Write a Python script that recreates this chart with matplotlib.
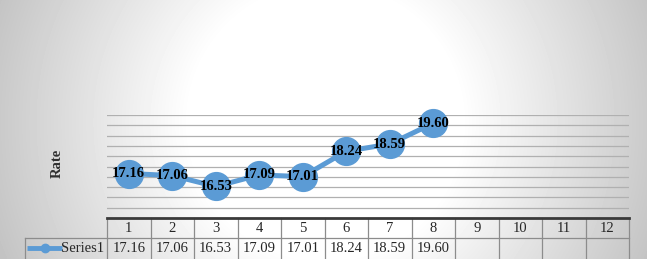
import numpy as np
import matplotlib
matplotlib.use("Agg")
import matplotlib.pyplot as plt
from matplotlib.transforms import blended_transform_factory

plt.rcParams['font.family'] = ['Liberation Serif', 'DejaVu Serif']

# data
categories = ['1', '2', '3', '4', '5', '6', '7', '8', '9', '10', '11', '12']
rates = [17.16, 17.06, 16.53, 17.09, 17.01, 18.24, 18.59, 19.60]
series_name = 'Series1'
y_label = 'Rate'

W, H = 647, 259
fig = plt.figure(figsize=(W / 100, H / 100), dpi=100)

# radial grey background, white in the middle
bg = fig.add_axes([0, 0, 1, 1])
yy, xx = np.mgrid[0:H, 0:W]
d = np.hypot(xx - 325, (yy - 122) * 1.0)
shade = 255 - np.clip(d - 136, 0, None) * 0.28
shade = np.clip(shade, 192, 255) / 255
bg.imshow(shade, cmap='gray', vmin=0, vmax=1, extent=[0, W, H, 0], aspect='auto')
bg.set_xlim(0, W)
bg.set_ylim(H, 0)
bg.axis('off')

# plot area
left, right, top, bottom = 107, 629, 115, 218
ax = fig.add_axes([left / W, (H - bottom) / H, (right - left) / W, (bottom - top) / H])
ax.patch.set_alpha(0)
x = np.arange(1, len(rates) + 1)
ax.set_xlim(0.5, len(categories) + 0.5)
ax.set_ylim(15, 20)
for g in np.arange(15.5, 20.01, 0.5):
    ax.axhline(g, color='#b0b0b0', lw=0.9, zorder=1)
for s in ['top', 'left', 'right']:
    ax.spines[s].set_visible(False)
ax.spines['bottom'].set_color('#3a3a3a')
ax.spines['bottom'].set_linewidth(2)
ax.set_xticks([])
ax.set_yticks([])

blue = '#5b9bd5'
ax.plot(x, rates, color=blue, lw=3.6, marker='o', ms=20, zorder=3, clip_on=False)
for xi, v in zip(x, rates):
    ax.text(xi, v, f'{v:.2f}', ha='center', va='center', fontsize=10.5,
            fontweight='bold', color='black', zorder=4)

fig.text(57 / W, 1 - 163 / H, y_label, rotation=90, ha='center', va='center',
         fontsize=10.5, fontweight='bold', color='#303030')

# data table under the axis
row_h = 20 / (bottom - top)
tr = blended_transform_factory(ax.transData, ax.transAxes)
grid_c = '#8c8c8c'
n = len(categories)
for i in range(n + 1):
    ax.plot([i + 0.5, i + 0.5], [0, -2.1 * row_h], transform=tr, color=grid_c,
            lw=0.9, clip_on=False)
leg_left = (25 - left) / (right - left)
ax.plot([leg_left, 1], [-row_h, -row_h], transform=ax.transAxes, color=grid_c,
        lw=0.9, clip_on=False)
ax.plot([leg_left, leg_left], [-row_h, -2.1 * row_h], transform=ax.transAxes,
        color=grid_c, lw=0.9, clip_on=False)

for i, c in enumerate(categories):
    ax.text(i + 1, -0.5 * row_h, c, transform=tr, ha='center', va='center',
            fontsize=10.5, color='#262626')
for i, v in enumerate(rates):
    ax.text(i + 1, -1.5 * row_h, f'{v:.2f}', transform=tr, ha='center', va='center',
            fontsize=10.5, color='#262626')

# legend key inside the table
lx0 = (27 - left) / (right - left)
lx1 = (62 - left) / (right - left)
lxm = (45 - left) / (right - left)
ax.plot([lx0, lx1], [-1.5 * row_h] * 2, transform=ax.transAxes, color=blue, lw=3.5,
        clip_on=False, solid_capstyle='butt')
ax.plot([lxm], [-1.5 * row_h], transform=ax.transAxes, color=blue, marker='o', ms=6,
        clip_on=False)
ax.text((104 - left) / (right - left), -1.5 * row_h, series_name, transform=ax.transAxes,
        ha='right', va='center', fontsize=10.5, color='#262626')

fig.savefig('out.png', dpi=100)
